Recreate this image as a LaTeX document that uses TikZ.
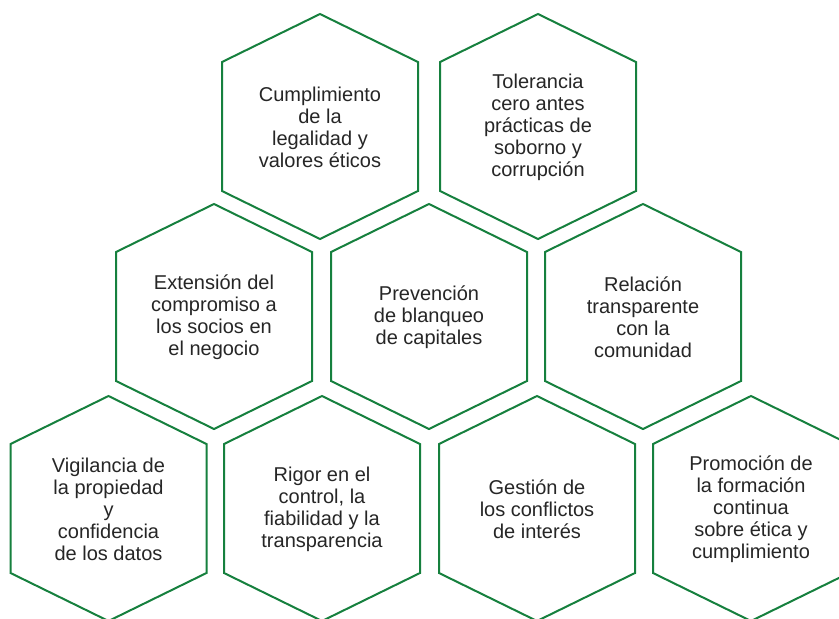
\documentclass[tikz,border=0pt]{standalone}
\usepackage{fontspec}
\setmainfont{Liberation Sans}

\definecolor{verdehex}{RGB}{22,128,62}
\tikzset{
  hexborde/.style={draw=verdehex, line width=2pt, line join=miter, fill=white},
  hextexto/.style={align=center, text=black!85, inner sep=0pt,
    font=\fontsize{20}{22}\selectfont}
}
% hexagono: centro x, centro y, nombre, texto
\newcommand{\hexa}[4]{%
  \draw[hexborde] (#1,#2-113) -- ++(98,48) -- ++(0,129) -- ++(-98,48)
    -- ++(-98,-48) -- ++(0,-129) -- cycle;
  \node[hextexto] (#3) at (#1,#2) {#4};
}

\begin{document}
\begin{tikzpicture}[x=1pt,y=-1pt]
  \useasboundingbox (0,0) rectangle (839,619);
  \clip (0,0) rectangle (839,619);
  % fila superior
  \hexa{320}{127}{legalidad}{Cumplimiento\\de la\\legalidad y\\valores éticos}
  \hexa{538}{127}{soborno}{Tolerancia\\cero antes\\prácticas de\\soborno y\\corrupción}
  % fila central
  \hexa{214}{317}{socios}{Extensión del\\compromiso a\\los socios en\\el negocio}
  \hexa{429}{317}{blanqueo}{Prevención\\de blanqueo\\de capitales}
  \hexa{643}{317}{comunidad}{Relación\\transparente\\con la\\comunidad}
  % fila inferior
  \hexa{108.5}{509}{datos}{Vigilancia de\\la propiedad\\y\\confidencia\\de los datos}
  \hexa{322}{509}{rigor}{Rigor en el\\control, la\\fiabilidad y la\\transparencia}
  \hexa{537}{509}{conflictos}{Gestión de\\los conflictos\\de interés}
  \hexa{751}{509}{formacion}{Promoción de\\la formación\\continua\\sobre ética y\\cumplimiento}
\end{tikzpicture}
\end{document}
